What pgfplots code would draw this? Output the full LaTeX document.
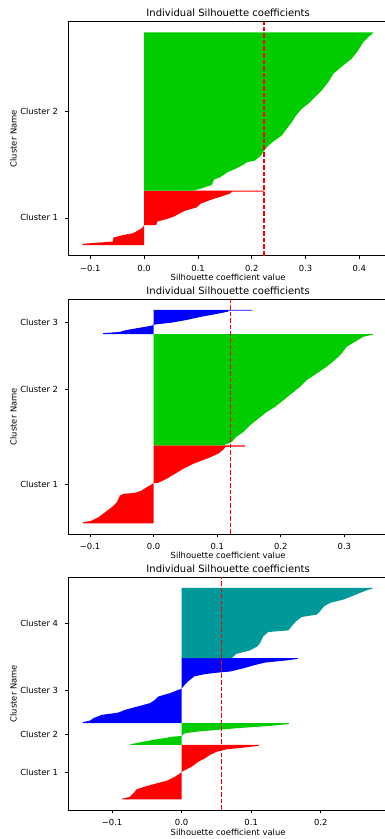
\documentclass[border=0pt]{standalone}
\usepackage{fontspec}
\setmainfont{DejaVu Sans}
\usepackage{pgfplots}
\pgfplotsset{compat=1.18}
\definecolor{cred}{RGB}{255,0,0}
\definecolor{cgreen}{RGB}{0,204,0}
\definecolor{cblue}{RGB}{0,0,255}
\definecolor{cteal}{RGB}{0,153,153}
\pgfplotsset{
  silh/.style={
    scale only axis, width=319.8pt,
    tick pos=left, tick align=outside, major tick length=2.9pt,
    tick style={black, line width=0.67pt},
    axis line style={line width=0.67pt},
    every axis title/.style={at={(0.5,1)}, anchor=base, yshift=5pt, font=\fontsize{10}{12}\selectfont},
    every axis x label/.style={at={(0.5,0)}, anchor=base, yshift=-25pt, font=\fontsize{8.4}{10}\selectfont},
    every axis y label/.style={at={(-0.171,0.5)}, rotate=90, anchor=center, font=\fontsize{8.4}{10}\selectfont},
    xticklabel style={anchor=base, yshift=-13pt, font=\fontsize{8.4}{10}\selectfont},
    yticklabel style={anchor=east, inner sep=0pt, xshift=-7pt, font=\fontsize{8.4}{10}\selectfont},
    title={Individual Silhouette coefficients},
    xlabel={Silhouette coefficient value},
    ylabel={Cluster Name},
  },
  sil/.style={fill=#1, draw=none},
  avg/.style={red, line width=1.25pt, dash pattern=on 4.6pt off 2pt},
}
\begin{document}
\begin{tikzpicture}[x=1pt,y=1pt]
% ---------- plot 1 ----------
\begin{axis}[silh, at={(68.2pt,583.3pt)}, anchor=south west, height=234pt,
  xmin=-0.1412, xmax=0.4533, ymin=-10.6, ymax=222.9,
  xtick={-0.1,0,0.1,0.2,0.3,0.4}, xticklabels={−0.1,0.0,0.1,0.2,0.3,0.4},
  ytick={27.15,133.3}, yticklabels={Cluster 1,Cluster 2}]
\addplot[sil=cred] coordinates {(0,0) (-0.115,0) (-0.115,1) (-0.106,1.6) (-0.080,2.6) (-0.058,3.6) (-0.057,7.6) (-0.040,9.9) (-0.020,11.9) (-0.0105,14.9) (-0.0025,17.6) (0,20) (0.0223,20) (0.0248,23.6) (0.042,26) (0.0545,28.3) (0.064,31) (0.076,34.3) (0.098,37.6) (0.104,41) (0.1195,44.3) (0.138,47.6) (0.158,51) (0.164,53.4) (0.2235,53.4) (0.2235,54.3) (0,54.3)};
\addplot[sil=cgreen] coordinates {(0,54.3) (0.0917,54.3) (0.107,56.6) (0.1257,60) (0.130,65.3) (0.141,67.6) (0.1548,72.6) (0.169,75.9) (0.1815,79.3) (0.191,82.6) (0.206,84.3) (0.2168,89.3) (0.223,94.3) (0.231,99.3) (0.240,103.3) (0.2557,109.3) (0.265,116) (0.2744,122.6) (0.2824,129.3) (0.293,136) (0.305,141) (0.3177,147.6) (0.330,154.3) (0.3424,162.6) (0.3517,171) (0.370,179.3) (0.3858,186) (0.398,194.3) (0.4075,202.6) (0.4167,207.6) (0.426,211.7) (0.426,212.3) (0,212.3)};
\addplot[avg] coordinates {(0.223,-10.6) (0.223,222.9)};
\end{axis}
% ---------- plot 2 ----------
\begin{axis}[silh, at={(68.2pt,305pt)}, anchor=south west, height=234.7pt,
  xmin=-0.1344, xmax=0.3686, ymin=-10.6, ymax=223.3,
  xtick={-0.1,0,0.1,0.2,0.3}, xticklabels={−0.1,0.0,0.1,0.2,0.3},
  ytick={38.85,133.2,200.7}, yticklabels={Cluster 1,Cluster 2,Cluster 3}]
\addplot[sil=cred] coordinates {(0,0) (-0.1117,0) (-0.1117,0.8) (-0.0976,2.7) (-0.087,6) (-0.0766,11) (-0.066,16) (-0.058,21) (-0.053,27.7) (-0.0478,29.4) (-0.0294,30.4) (-0.0189,32.7) (-0.011,36) (-0.0016,39.4) (0,40.4) (0.0073,40.4) (0.0205,44.4) (0.0335,49.4) (0.0466,54.4) (0.0623,59.4) (0.0834,64.4) (0.1016,69.4) (0.1095,73.4) (0.113,76.3) (0.1437,76.6) (0.1437,77.7) (0,77.7)};
\addplot[sil=cgreen] coordinates {(0,77.7) (0.1096,77.7) (0.1227,81) (0.1295,86) (0.141,91) (0.1515,97.7) (0.1646,104.4) (0.1778,111) (0.1908,116) (0.204,122.7) (0.217,129.4) (0.230,136) (0.2407,142.7) (0.2565,149.4) (0.272,156) (0.285,162.7) (0.2958,169.4) (0.3036,176) (0.3167,181) (0.330,186) (0.3455,188.2) (0.3455,188.7) (0,188.7)};
\addplot[sil=cblue] coordinates {(0,188.7) (-0.0793,188.7) (-0.0793,189.6) (-0.054,190.7) (-0.0425,192.7) (-0.0216,195) (-0.0058,196.7) (0,197.7) (0.0047,198.4) (0.028,200) (0.052,202.7) (0.0755,206) (0.099,208.7) (0.1174,211) (0.1174,211.9) (0.155,212.1) (0.155,212.7) (0,212.7)};
\addplot[avg] coordinates {(0.121,-10.6) (0.121,223.3)};
\end{axis}
% ---------- plot 3 ----------
\begin{axis}[silh, at={(68.2pt,29pt)}, anchor=south west, height=232.7pt,
  xmin=-0.1632, xmax=0.2968, ymin=-10.55, ymax=221.55,
  xtick={-0.1,0,0.1,0.2}, xticklabels={−0.1,0.0,0.1,0.2},
  ytick={27.15,65.15,108.5,176}, yticklabels={Cluster 1,Cluster 2,Cluster 3,Cluster 4}]
\addplot[sil=cred] coordinates {(0,0) (-0.0863,0) (-0.0863,0.6) (-0.0744,2.6) (-0.0696,6) (-0.0647,10) (-0.0504,13.3) (-0.036,16) (-0.0216,18.6) (-0.0096,22.6) (-0.0024,26) (0,27.3) (0.0047,29.3) (0.0144,32.6) (0.0239,37.6) (0.0335,41) (0.0407,44.3) (0.0504,47.6) (0.0647,50) (0.0935,52) (0.111,53.6) (0.111,54.3) (0,54.3)};
\addplot[sil=cgreen] coordinates {(0,54.3) (-0.0744,54.3) (-0.0734,55) (-0.0552,57.6) (-0.036,60) (-0.012,62.6) (0,63.3) (0.0047,66) (0.0216,67.6) (0.0504,69.3) (0.079,71) (0.127,73.3) (0.1544,75.3) (0.1544,76) (0,76)};
\addplot[sil=cblue] coordinates {(0,76) (-0.1425,76) (-0.1425,77) (-0.132,78.6) (-0.127,81) (-0.115,84.3) (-0.0912,86.6) (-0.0816,89.3) (-0.0672,92) (-0.0456,96) (-0.0384,99.3) (-0.0337,102.6) (-0.0168,106) (-0.0048,109.3) (0,110.3) (0.0023,112.6) (0.009,117.6) (0.018,122.6) (0.03,124.5) (0.045,126) (0.07,127.6) (0.09,131) (0.105,134) (0.12,136.5) (0.153,138.8) (0.167,140.3) (0.167,141) (0,141)};
\addplot[sil=cteal] coordinates {(0,141) (0.072,141) (0.079,145.3) (0.0983,148.6) (0.1088,152.6) (0.1127,156) (0.1174,162.6) (0.1246,167) (0.1534,168.6) (0.158,172.6) (0.1645,177.6) (0.1727,182) (0.1942,184.3) (0.199,187.6) (0.2047,192.6) (0.2134,196) (0.2325,199.3) (0.2446,202.6) (0.2565,206) (0.266,208.6) (0.2748,210.4) (0.2748,211) (0,211)};
\addplot[avg] coordinates {(0.0576,-10.55) (0.0576,221.55)};
\end{axis}
\pgfresetboundingbox
\path[use as bounding box] (0pt,0pt) rectangle (384pt,839pt);
\end{tikzpicture}
\end{document}
